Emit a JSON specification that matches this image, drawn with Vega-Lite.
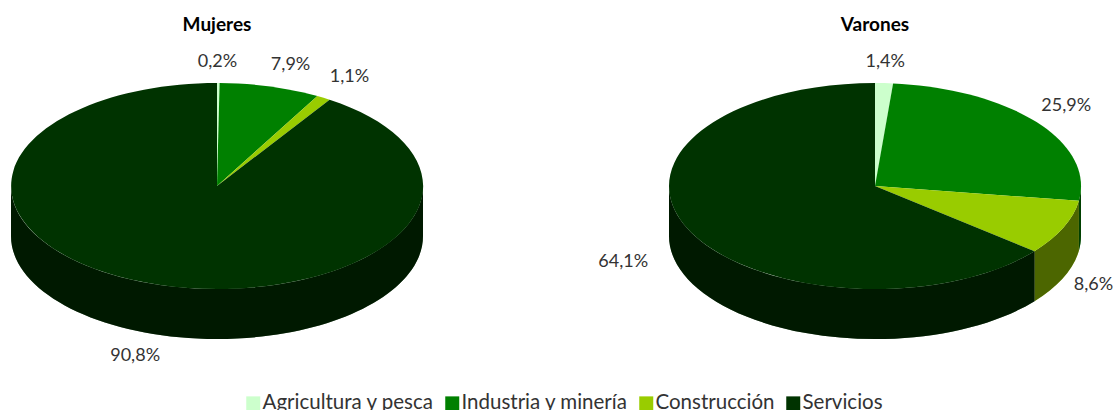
{
"$schema":"https://vega.github.io/schema/vega-lite/v6.json",
"padding":{"top":16,"left":0,"right":0,"bottom":0},"background":"white",
"config":{"view":{"stroke":null}},
"data":{"values":[
{"panel":"Mujeres","sector":"Agricultura y pesca","value":0.2},
{"panel":"Mujeres","sector":"Industria y minería","value":7.9},
{"panel":"Mujeres","sector":"Construcción","value":1.1},
{"panel":"Mujeres","sector":"Servicios","value":90.8},
{"panel":"Varones","sector":"Agricultura y pesca","value":1.4},
{"panel":"Varones","sector":"Industria y minería","value":25.9},
{"panel":"Varones","sector":"Construcción","value":8.6},
{"panel":"Varones","sector":"Servicios","value":64.1}
]},
"transform":[
{"stack":"value","groupby":["panel"],"as":["v0","v1"]},
{"calculate":"2*PI*datum.v0/100","as":"t0"},
{"calculate":"2*PI*datum.v1/100","as":"t1"},
{"calculate":"(datum.t0+datum.t1)/2","as":"tm"},
{"calculate":"round(2060*sin(datum.t0))/10","as":"x0"},
{"calculate":"round(-1030*cos(datum.t0))/10","as":"y0"},
{"calculate":"round(2060*sin(datum.t1))/10","as":"x1"},
{"calculate":"round(-1030*cos(datum.t1))/10","as":"y1"},
{"calculate":"'M0,0L'+datum.x0+','+datum.y0+'A206,103 0 '+(datum.t1-datum.t0>PI?1:0)+' 1 '+datum.x1+','+datum.y1+'Z'","as":"top"},
{"calculate":"clamp(datum.t0,PI/2,3*PI/2)","as":"w0"},
{"calculate":"clamp(datum.t1,PI/2,3*PI/2)","as":"w1"},
{"calculate":"round(2060*sin(datum.w0))/10","as":"wx0"},
{"calculate":"round(-1030*cos(datum.w0))/10","as":"wy0"},
{"calculate":"round(2060*sin(datum.w1))/10","as":"wx1"},
{"calculate":"round(-1030*cos(datum.w1))/10","as":"wy1"},
{"calculate":"'M'+datum.wx0+','+datum.wy0+'A206,103 0 0 1 '+datum.wx1+','+datum.wy1+'L'+datum.wx1+','+(datum.wy1+50)+'A206,103 0 0 0 '+datum.wx0+','+(datum.wy0+50)+'Z'","as":"wall"},
{"calculate":"datum.panel+'|'+datum.sector","as":"key"},
{"calculate":"231*sin(datum.tm)+({'Mujeres|Agricultura y pesca':-1,'Mujeres|Industria y minería':14,'Mujeres|Construcción':13,'Mujeres|Servicios':-16,'Varones|Industria y minería':10,'Varones|Construcción':7,'Varones|Servicios':-43}[datum.key]||0)","as":"lx"},
{"calculate":"-128*cos(datum.tm)+(cos(datum.tm)<0?50:0)+({'Mujeres|Agricultura y pesca':4,'Mujeres|Industria y minería':3,'Mujeres|Construcción':1,'Mujeres|Servicios':-3,'Varones|Agricultura y pesca':4,'Varones|Industria y minería':-1,'Varones|Construcción':-3,'Varones|Servicios':-29}[datum.key]||0)","as":"ly"},
{"calculate":"replace(format(datum.value,'.1f'),'.',',')+'%'","as":"label"}
],
"facet":{"field":"panel","type":"nominal","title":null,
 "header":{"labelFont":"Lato","labelFontSize":19,"labelFontWeight":"bold","labelColor":"#000000","labelPadding":2}},
"spacing":224,
"bounds":"flush",
"spec":{
 "width":434,"height":298,
 "layer":[
  {"transform":[{"filter":"datum.w1>datum.w0"}],
   "mark":{"type":"point","filled":true,"opacity":1,"size":4,"strokeWidth":0},
   "encoding":{"shape":{"field":"wall","type":"nominal","scale":null},
    "color":{"field":"sector","type":"nominal","sort":null,"scale":{"domain":["Agricultura y pesca","Industria y minería","Construcción","Servicios"],"range":["#ccffcc","#008000","#99cc00","#003300"]}}}},
  {"transform":[{"filter":"datum.w1>datum.w0"}],
   "mark":{"type":"point","filled":true,"opacity":0.5,"size":4,"strokeWidth":0,"color":"#000000"},
   "encoding":{"shape":{"field":"wall","type":"nominal","scale":null}}},
  {"mark":{"type":"point","filled":true,"opacity":1,"size":4,"strokeWidth":0},
   "encoding":{"shape":{"field":"top","type":"nominal","scale":null},
    "color":{"field":"sector","type":"nominal","sort":null,
     "scale":{"domain":["Agricultura y pesca","Industria y minería","Construcción","Servicios"],"range":["#ccffcc","#008000","#99cc00","#003300"]},
     "legend":{"title":null,"orient":"none","legendX":243,"legendY":356,"direction":"horizontal","columns":4,"symbolType":"square","symbolSize":196,"symbolStrokeWidth":0,"labelFont":"Lato","labelFontSize":20.5,"labelColor":"#333333","labelLimit":300,"columnPadding":8,"labelOffset":-1}}}},
  {"mark":{"type":"text","font":"Lato","fontSize":18,"color":"#333333","baseline":"middle","align":"center"},
   "encoding":{
    "x":{"field":"lx","type":"quantitative","axis":null,"scale":{"domain":[-217,217],"nice":false,"zero":false}},
    "y":{"field":"ly","type":"quantitative","axis":null,"scale":{"domain":[-149,149],"nice":false,"zero":false,"reverse":true}},
    "text":{"field":"label","type":"nominal"}}}
 ]
}
}
